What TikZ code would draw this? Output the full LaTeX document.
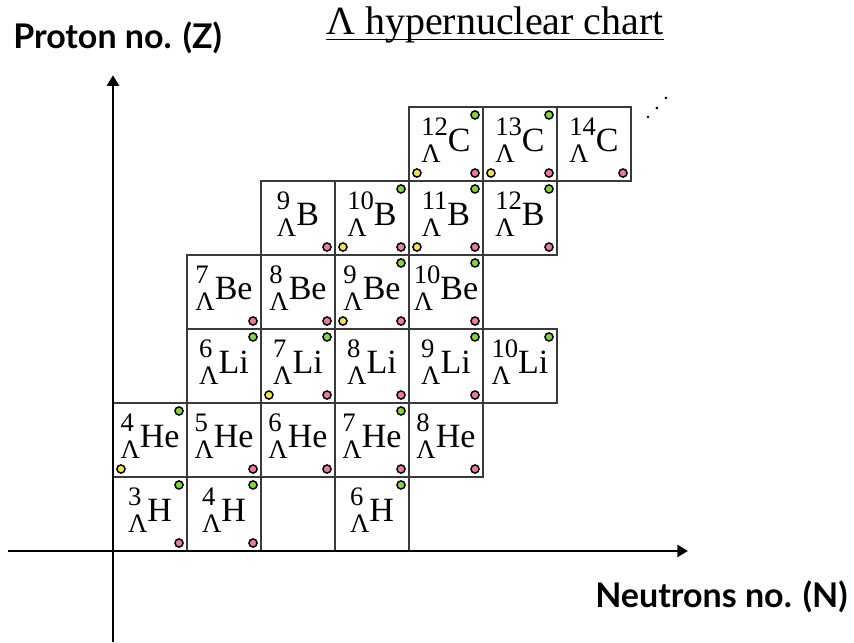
\documentclass[tikz,border=0pt]{standalone}
\usepackage{fontspec}
\setmainfont{Liberation Serif}
\setsansfont{Lato}
\usepackage{tikz}
\usetikzlibrary{arrows.meta}
\definecolor{dotgreen}{HTML}{7ED63A}
\definecolor{dotpink}{HTML}{E87BAA}
\definecolor{dotyellow}{HTML}{EEE34A}
\definecolor{zelle}{HTML}{3A3A3A}
\tikzset{
  cell/.style={draw=zelle,line width=0.8pt,minimum size=55.5pt,inner sep=0pt,font=\fontsize{25.5}{28}\selectfont},
  gdotst/.style={fill=dotgreen,draw=black,line width=1.1pt},
  pdotst/.style={fill=dotpink,draw=black,line width=1.1pt},
  ydotst/.style={fill=dotyellow,draw=black,line width=1.1pt},
  axis/.style={-{Triangle[length=8pt,width=9pt]},line width=2.2pt},
  axlabel/.style={font=\sffamily\bfseries\fontsize{25.5}{28}\selectfont,inner sep=0pt},
}
\newcommand{\hyp}[2]{\raisebox{-8pt}{\fontsize{20}{20}\selectfont\begin{tabular}[b]{@{}l@{}}#1\\Λ\end{tabular}}#2}
\newcommand{\greendot}[1]{\draw[gdotst] ([shift={(-0.115,-0.115)}]#1.north east) circle (0.055);}
\newcommand{\pinkdot}[1]{\draw[pdotst] ([shift={(-0.115,0.115)}]#1.south east) circle (0.055);}
\newcommand{\yellowdot}[1]{\draw[ydotst] ([shift={(0.115,0.115)}]#1.south west) circle (0.055);}

\begin{document}
\begin{tikzpicture}[x=55.5pt,y=55.5pt]
  \useasboundingbox (-1.527,-1.230) rectangle (10.014,7.446);
  % ===== Achsen =====
  \coordinate (zbot) at (0,-1.23);
  \coordinate (ztop) at (0,6.43);
  \coordinate (nleft) at (-1.42,0);
  \coordinate (nright) at (7.77,0);
  % ===== H =====
  \node[cell] (H3) at (0.5,0.5) {\hyp{3}{H}};
  \node[cell] (H4) at (1.5,0.5) {\hyp{4}{H}};
  \node[cell] (H6) at (3.5,0.5) {\hyp{6}{H}};
  % ===== He =====
  \node[cell] (He4) at (0.5,1.5) {\hyp{4}{He}};
  \node[cell] (He5) at (1.5,1.5) {\hyp{5}{He}};
  \node[cell] (He6) at (2.5,1.5) {\hyp{6}{He}};
  \node[cell] (He7) at (3.5,1.5) {\hyp{7}{He}};
  \node[cell] (He8) at (4.5,1.5) {\hyp{8}{He}};
  % ===== Li =====
  \node[cell] (Li6) at (1.5,2.5) {\hyp{6}{Li}};
  \node[cell] (Li7) at (2.5,2.5) {\hyp{7}{Li}};
  \node[cell] (Li8) at (3.5,2.5) {\hyp{8}{Li}};
  \node[cell] (Li9) at (4.5,2.5) {\hyp{9}{Li}};
  \node[cell] (Li10) at (5.5,2.5) {\hyp{10}{Li}};
  % ===== Be =====
  \node[cell] (Be7) at (1.5,3.5) {\hyp{7}{Be}};
  \node[cell] (Be8) at (2.5,3.5) {\hyp{8}{Be}};
  \node[cell] (Be9) at (3.5,3.5) {\hyp{9}{Be}};
  \node[cell] (Be10) at (4.5,3.5) {\hyp{10}{Be}};
  % ===== B =====
  \node[cell] (B9) at (2.5,4.5) {\hyp{9}{B}};
  \node[cell] (B10) at (3.5,4.5) {\hyp{10}{B}};
  \node[cell] (B11) at (4.5,4.5) {\hyp{11}{B}};
  \node[cell] (B12) at (5.5,4.5) {\hyp{12}{B}};
  % ===== C =====
  \node[cell] (C12) at (4.5,5.5) {\hyp{12}{C}};
  \node[cell] (C13) at (5.5,5.5) {\hyp{13}{C}};
  \node[cell] (C14) at (6.5,5.5) {\hyp{14}{C}};
  % ===== Punkte =====
  \greendot{H3} \pinkdot{H3}
  \greendot{H4} \pinkdot{H4}
  \greendot{H6}
  \greendot{He4} \yellowdot{He4}
  \pinkdot{He5}
  \pinkdot{He6}
  \greendot{He7} \pinkdot{He7}
  \pinkdot{He8}
  \greendot{Li6}
  \greendot{Li7} \yellowdot{Li7} \pinkdot{Li7}
  \pinkdot{Li8}
  \greendot{Li9} \pinkdot{Li9}
  \greendot{Li10}
  \pinkdot{Be7}
  \pinkdot{Be8}
  \greendot{Be9} \yellowdot{Be9} \pinkdot{Be9}
  \greendot{Be10} \pinkdot{Be10}
  \pinkdot{B9}
  \greendot{B10} \yellowdot{B10} \pinkdot{B10}
  \greendot{B11} \yellowdot{B11} \pinkdot{B11}
  \greendot{B12} \pinkdot{B12}
  \greendot{C12} \yellowdot{C12} \pinkdot{C12}
  \greendot{C13} \yellowdot{C13} \pinkdot{C13}
  \pinkdot{C14}
  % ellipsis
  \fill (7.230,5.865) circle (1.1pt);
  \fill (7.350,5.986) circle (1.1pt);
  \fill (7.473,6.122) circle (1.1pt);
  % axes
  \draw[axis] (zbot) -- (ztop);
  \draw[axis] (nleft) -- (nright);
  \node[axlabel,anchor=base west] (zlab) at (-1.351,6.797) {Proton no. (Z)};
  \node[axlabel,anchor=base east] (nlab) at (9.932,-0.757) {Neutrons no. (N)};
  % title
  \node[font=\fontsize{30}{34}\selectfont,inner sep=0pt,anchor=base] (title) at (5.162,6.973) {Λ hypernuclear chart};
  \draw[line width=1.4pt] ([yshift=-3.4pt]title.base west) -- ([yshift=-3.4pt]title.base east);
\end{tikzpicture}
\end{document}
